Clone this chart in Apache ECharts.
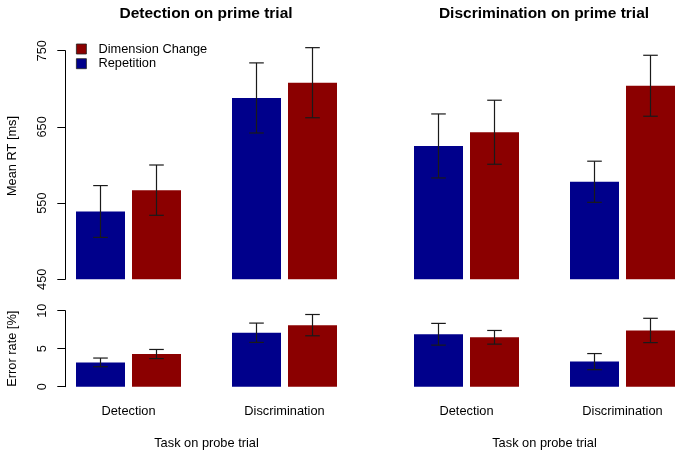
<!DOCTYPE html>
<html><head><meta charset="utf-8">
<script src="https://cdn.jsdelivr.net/npm/echarts@6/dist/echarts.min.js"></script>
<style>html,body{margin:0;padding:0;background:#fff}#c{width:680px;height:454px}</style>
</head><body><div id="c"></div>
<script>
// ---- data ----
const categories = ['Detection', 'Discrimination'];
const panelTitles = ['Detection on prime trial', 'Discrimination on prime trial'];
const seriesNames = ['Repetition', 'Dimension Change'];
const rtTickLabels = [450, 550, 650, 750];
const errTickLabels = [0, 5, 10];

// Mean RT [ms] – prime: Detection (left panel)
const rtRepDet = [539, 688];
const rtRepDetErr = [34, 46];
const rtChgDet = [567, 708];
const rtChgDetErr = [33, 46];
// Mean RT [ms] – prime: Discrimination (right panel)
const rtRepDis = [625, 578];
const rtRepDisErr = [42, 27];
const rtChgDis = [643, 704];
const rtChgDisErr = [42, 40];

// Error rate [%] – prime: Detection
const erRepDet = [3.2, 7.1];
const erRepDetErr = [0.57, 1.27];
const erChgDet = [4.3, 8.1];
const erChgDetErr = [0.6, 1.4];
// Error rate [%] – prime: Discrimination
const erRepDis = [6.9, 3.3];
const erRepDisErr = [1.43, 1.06];
const erChgDis = [6.5, 7.4];
const erChgDisErr = [0.9, 1.6];

// ---- styling ----
const FONT = "'Liberation Sans', Arial, Helvetica, sans-serif";
const BLUE = '#00008B', RED = '#8B0000';
const BAR_W = 49, GAP = 7, OFF = (BAR_W + GAP) / 2;

const panels = [
  {grid: 0, rep: rtRepDet, repE: rtRepDetErr, chg: rtChgDet, chgE: rtChgDetErr},
  {grid: 1, rep: rtRepDis, repE: rtRepDisErr, chg: rtChgDis, chgE: rtChgDisErr},
  {grid: 2, rep: erRepDet, repE: erRepDetErr, chg: erChgDet, chgE: erChgDetErr},
  {grid: 3, rep: erRepDis, repE: erRepDisErr, chg: erChgDis, chgE: erChgDisErr}
];

function errRender(offset) {
  return function (params, api) {
    const lo = api.coord([api.value(0), api.value(1)]);
    const hi = api.coord([api.value(0), api.value(2)]);
    const x = lo[0] + offset, w = 7.3;
    const style = {stroke: '#1a1a1a', lineWidth: 1.2, fill: null};
    return {type: 'group', children: [
      {type: 'line', shape: {x1: x, y1: lo[1], x2: x, y2: hi[1]}, style: style},
      {type: 'line', shape: {x1: x - w, y1: lo[1], x2: x + w, y2: lo[1]}, style: style},
      {type: 'line', shape: {x1: x - w, y1: hi[1], x2: x + w, y2: hi[1]}, style: style}
    ]};
  };
}

const series = [];
panels.forEach(p => {
  series.push({name: seriesNames[0], type: 'bar', xAxisIndex: p.grid, yAxisIndex: p.grid,
    data: p.rep, barWidth: BAR_W, barGap: (GAP / BAR_W * 100) + '%',
    itemStyle: {color: BLUE}});
  series.push({name: seriesNames[1], type: 'bar', xAxisIndex: p.grid, yAxisIndex: p.grid,
    data: p.chg, barWidth: BAR_W, barGap: (GAP / BAR_W * 100) + '%',
    itemStyle: {color: RED}});
  series.push({name: 'err-rep-' + p.grid, type: 'custom', xAxisIndex: p.grid, yAxisIndex: p.grid,
    clip: false, z: 5, renderItem: errRender(-OFF), encode: {x: 0, y: [1, 2]},
    data: p.rep.map((v, i) => [i, v - p.repE[i], v + p.repE[i]])});
  series.push({name: 'err-chg-' + p.grid, type: 'custom', xAxisIndex: p.grid, yAxisIndex: p.grid,
    clip: false, z: 5, renderItem: errRender(OFF), encode: {x: 0, y: [1, 2]},
    data: p.chg.map((v, i) => [i, v - p.chgE[i], v + p.chgE[i]])});
});

const gridL = [50.5, 388.5], GRID_W = 312, AXIS_X = 65.3;
const grids = [
  {left: gridL[0], width: GRID_W, top: 50.7, height: 228.6, outerBoundsMode: 'none'},
  {left: gridL[1], width: GRID_W, top: 50.7, height: 228.6, outerBoundsMode: 'none'},
  {left: gridL[0], width: GRID_W, top: 310.7, height: 76, outerBoundsMode: 'none'},
  {left: gridL[1], width: GRID_W, top: 310.7, height: 76, outerBoundsMode: 'none'}
];

const xAxes = [0, 1, 2, 3].map(i => ({
  type: 'category', gridIndex: i, data: categories,
  axisLine: {show: false}, axisTick: {show: false}, splitLine: {show: false},
  axisLabel: {show: i >= 2, margin: 18.5, fontSize: 12.8, color: '#000', fontFamily: FONT},
  name: i >= 2 ? 'Task on probe trial' : '', nameLocation: 'middle', nameGap: 50,
  nameTextStyle: {fontSize: 12.8, color: '#000', fontFamily: FONT}
}));

function yAx(i, min, max, interval, name, show, namePad) {
  return {
    type: 'value', gridIndex: i, min: min, max: max, interval: interval, show: show,
    offset: gridL[0] - AXIS_X, splitLine: {show: false},
    axisLine: {show: true, lineStyle: {color: '#000', width: 1}},
    axisTick: {show: true, length: 8, lineStyle: {color: '#000', width: 1}},
    axisLabel: {rotate: 90, margin: 16, fontSize: 12.8, color: '#000', fontFamily: FONT},
    name: name, nameLocation: 'middle', nameGap: 46,
    nameTextStyle: {fontSize: 12.8, color: '#000', fontFamily: FONT, padding: namePad}
  };
}
const yAxes = [
  yAx(0, rtTickLabels[0], rtTickLabels[rtTickLabels.length - 1], 100, 'Mean RT [ms]', true, [0, 0, 0, 18]),
  yAx(1, rtTickLabels[0], rtTickLabels[rtTickLabels.length - 1], 100, '', false, 0),
  yAx(2, errTickLabels[0], errTickLabels[errTickLabels.length - 1], 5, 'Error rate [%]', true, 0),
  yAx(3, errTickLabels[0], errTickLabels[errTickLabels.length - 1], 5, '', false, 0)
];

const chart = echarts.init(document.getElementById('c'));
chart.setOption({
  animation: false,
  backgroundColor: '#fff',
  title: panelTitles.map((t, i) => ({
    text: t, left: 206 + i * 338, top: 6, textAlign: 'center', padding: 0,
    textStyle: {fontSize: 15.5, fontWeight: 'bold', color: '#000', fontFamily: FONT}
  })),
  legend: {
    orient: 'vertical', left: 76, top: 42, padding: 0,
    itemWidth: 10, itemHeight: 10, itemGap: 0.7, icon: 'rect',
    data: [seriesNames[1], seriesNames[0]],
    itemStyle: {borderColor: '#222', borderWidth: 0.8},
    textStyle: {fontSize: 12.8, lineHeight: 14, color: '#000', fontFamily: FONT, padding: [0, 0, 0, 7]}
  },
  grid: grids,
  xAxis: xAxes,
  yAxis: yAxes,
  series: series
});
</script></body></html>
